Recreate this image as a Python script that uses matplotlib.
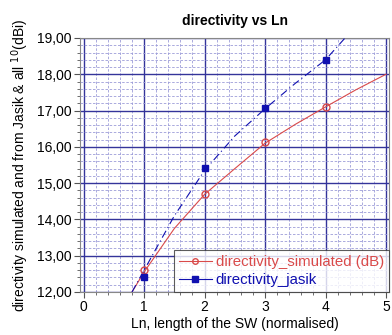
import numpy as np
import matplotlib
matplotlib.use("Agg")
import matplotlib.pyplot as plt
from matplotlib.ticker import MultipleLocator, FuncFormatter

plt.rcParams['font.family'] = ['Liberation Sans', 'DejaVu Sans']

# measured points
ln_pts = [1, 2, 3, 4]
sim_pts = [12.6, 14.69, 16.14, 17.1]
jasik_pts = [12.42, 15.42, 17.08, 18.4]

# trend curves
sim_curve_x = [0.8, 1.0, 1.5, 2.0, 2.5, 3.0, 3.5, 4.0, 4.5, 5.0]
sim_curve_y = [12.0, 12.55, 13.75, 14.69, 15.4, 16.1, 16.62, 17.1, 17.57, 18.0]
jas_curve_x = [0.8, 1.0, 1.5, 2.0, 2.5, 3.0, 3.5, 4.0, 4.35]
jas_curve_y = [12.0, 12.6, 14.1, 15.35, 16.3, 17.05, 17.75, 18.4, 19.05]

red = '#d94a4a'
blue = '#1010b0'

fig = plt.figure(figsize=(3.92, 3.35), dpi=100)
ax = fig.add_axes([80/392, 1-292/335, 309/392, 254/335])

ax.plot(sim_curve_x, sim_curve_y, color=red, lw=0.8, zorder=3)
ax.plot(jas_curve_x, jas_curve_y, color=blue, lw=0.8, ls=(0, (7, 3, 1, 3)), zorder=3)
ax.plot(ln_pts, sim_pts, ls='none', marker='o', ms=5, mfc='none', mec=red, mew=1, zorder=4)
ax.plot(ln_pts, jasik_pts, ls='none', marker='s', ms=5, color=blue, zorder=4)

# legend proxies
ax.plot([], [], color=red, lw=0.8, marker='o', ms=4, mfc='none', mec=red,
        label='directivity_simulated (dB)')
ax.plot([], [], color=blue, lw=0.8, marker='s', ms=4, label='directivity_jasik')

ax.set_xlim(-0.06, 5.05)
ax.set_ylim(12, 19)
ax.xaxis.set_major_locator(MultipleLocator(1))
ax.xaxis.set_minor_locator(MultipleLocator(0.2))
ax.yaxis.set_major_locator(MultipleLocator(1))
ax.yaxis.set_minor_locator(MultipleLocator(0.2))
ax.yaxis.set_major_formatter(FuncFormatter(lambda v, p: f'{v:.2f}'.replace('.', ',')))

ax.grid(which='major', color='#34349a', lw=1.0)
ax.grid(which='minor', color='#9c9cd8', lw=0.6, ls=(0, (3, 2)))
ax.set_axisbelow(True)

ax.tick_params(which='major', length=4, width=0.8, color='#555555', labelsize=10, pad=2)
ax.tick_params(which='minor', length=2, width=0.6, color='#555555')
for s in ax.spines.values():
    s.set_color('#888888')
    s.set_linewidth(0.8)

ax.set_title('directivity vs Ln', fontsize=10, fontweight='bold', pad=9)
ax.set_xlabel('Ln, length of the SW (normalised)', fontsize=10, labelpad=2)
ax.set_ylabel('directivity simulated and from Jasik & all $^{10}$(dBi)', fontsize=10, labelpad=4)

leg = ax.legend(loc='lower right', fontsize=10.8, frameon=True, fancybox=False,
                borderpad=0.35, handlelength=2.2, handletextpad=0.25, labelspacing=0.25,
                borderaxespad=0.0)
leg.get_frame().set_edgecolor('#333333')
leg.get_frame().set_linewidth(0.8)
for t, c in zip(leg.get_texts(), [red, blue]):
    t.set_color(c)

fig.savefig('out.png', dpi=100)
